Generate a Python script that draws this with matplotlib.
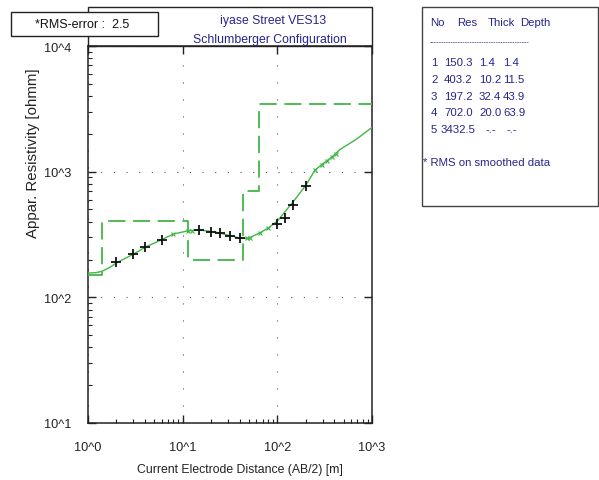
import matplotlib
matplotlib.use("Agg")
import matplotlib.pyplot as plt
from matplotlib.patches import Rectangle
from matplotlib.ticker import LogLocator, NullFormatter

plt.rcParams['font.family'] = ['Liberation Sans', 'DejaVu Sans']

# Observed sounding data: AB/2 [m] and apparent resistivity [ohm-m]
ab2_obs = [2.0, 3.0, 4.0, 6.0, 15.0, 19.7, 24.8, 31.6, 40.3, 100.0, 120.0, 148.0, 199.0]
rho_obs = [190, 221, 252, 286, 345, 333, 325, 306, 295, 385, 425, 542, 764]

# Smoothed data points
ab2_smooth = [8.0, 11.5, 12.4, 47.4, 51.4, 65.5, 80.0, 250.0, 294.0, 331.0, 374.0, 416.0]
rho_smooth = [319, 339, 337, 295, 295, 325, 356, 1040, 1140, 1220, 1300, 1380]

# Calculated response of the layered model
ab2_calc = [1.0, 1.2, 1.4, 1.7, 2.0, 3.0, 4.0, 6.0, 8.0, 11.5, 15.0, 20.0, 25.0, 32.0,
            40.0, 49.0, 65.0, 80.0, 100.0, 148.0, 199.0, 250.0, 300.0, 374.0, 458.0,
            687.0, 1000.0]
rho_calc = [156, 157, 161, 173, 188, 220, 250, 288, 319, 339, 343, 335, 325, 308,
            297, 294, 325, 356, 404, 580, 775, 1030, 1150, 1300, 1500, 1815, 2250]

# Layered earth model
layer_no = [1, 2, 3, 4, 5]
layer_res = [150.3, 403.2, 197.2, 702.0, 3432.5]
layer_thick = [1.4, 10.2, 32.4, 20.0]
layer_depth = [1.4, 11.5, 43.9, 63.9]

x_range = [1.0, 1000.0]
y_range = [10.0, 10000.0]
x_ticklabels = ['10^0', '10^1', '10^2', '10^3']
y_ticklabels = ['10^1', '10^2', '10^3', '10^4']

rms_error = 2.5
title_lines = ['iyase Street VES13', 'Schlumberger Configuration']

W, H = 599, 481
GREEN = '#41b645'
NAVY = '#25258c'


def fx(px):
    return px / W


def fy(py):
    return 1 - py / H


fig = plt.figure(figsize=(W / 100, H / 100), dpi=100)
fig.patch.set_facecolor('white')
ax = fig.add_axes([fx(88), fy(424), fx(372) - fx(88), fy(47) - fy(424)])
ax.set_xscale('log')
ax.set_yscale('log')
ax.set_xlim(x_range)
ax.set_ylim(y_range)

# Model: step function of layer resistivity against depth
edges = [x_range[0]] + layer_depth + [x_range[1]]
steps = layer_res + [layer_res[-1]]
ax.step(edges, steps, where='post', color=GREEN, lw=1.3,
        dashes=(9.5, 4.2), zorder=3)

# Calculated curve, smoothed data and field data
ax.plot(ab2_calc, rho_calc, color=GREEN, lw=1.0, zorder=4)
ax.plot(ab2_smooth, rho_smooth, ls='none', marker='x', ms=3.5, mew=0.8,
        color=GREEN, zorder=5)
ax.plot(ab2_obs, rho_obs, ls='none', marker='+', ms=7.8, mew=1.3,
        color='#111111', zorder=6)

# Ticks
ax.set_xticks([1, 10, 100, 1000], labels=x_ticklabels)
ax.set_yticks([10, 100, 1000, 10000], labels=y_ticklabels)
ax.xaxis.set_minor_locator(LogLocator(base=10, subs=range(2, 10), numticks=20))
ax.yaxis.set_minor_locator(LogLocator(base=10, subs=range(2, 10), numticks=20))
ax.xaxis.set_minor_formatter(NullFormatter())
ax.yaxis.set_minor_formatter(NullFormatter())
ax.tick_params(which='major', direction='in', length=6, width=1.0,
               top=True, right=True, labelsize=9.2, colors='#222222')
ax.tick_params(axis='x', which='major', pad=13)
ax.tick_params(axis='y', which='major', pad=12)
ax.tick_params(which='minor', direction='in', length=3, width=0.8,
               top=False, right=False, left=True, bottom=True, colors='#222222')
for s in ax.spines.values():
    s.set_linewidth(1.1)
    s.set_color('#222222')

# Sparse dotted grid at the inner decades
ax.xaxis.grid(True, which='major', color='#555555', lw=0.8, linestyle=(0, (1, 14.3)))
ax.yaxis.grid(True, which='major', color='#555555', lw=0.8, linestyle=(0, (1, 10.4)))
ax.set_axisbelow(True)

# Axis labels
ax.set_xlabel('Current Electrode Distance (AB/2) [m]', fontsize=8.8, color='#222222')
ax.xaxis.set_label_coords((240 - 88) / 284, (424 - 470) / 377)
ax.xaxis.label.set_va('center')
ax.set_ylabel('Appar. Resistivity [ohmm]', fontsize=10.8, color='#222222')
ax.yaxis.set_label_coords((33 - 88) / 284, (424 - 153) / 377)
ax.yaxis.label.set_va('center')

# Header frame above the plot with the title
fig.add_artist(Rectangle((fx(88), fy(47)), fx(372) - fx(88), fy(8) - fy(47),
                         transform=fig.transFigure, fill=False, lw=1.0,
                         ec='#222222', zorder=1))
fig.text(fx(273), fy(21), title_lines[0], ha='center', va='center',
         fontsize=8.8, color=NAVY)
fig.text(fx(270), fy(40), title_lines[1], ha='center', va='center',
         fontsize=8.8, color=NAVY)

# RMS error box
fig.add_artist(Rectangle((fx(11), fy(37)), fx(158) - fx(11), fy(13) - fy(37),
                         transform=fig.transFigure, fc='white', lw=1.0,
                         ec='#222222', zorder=5))
fig.text(fx(35), fy(25), '*RMS-error :  %.1f' % rms_error, ha='left', va='center',
         fontsize=9, color='#111111', zorder=6)

# Layer table
fig.add_artist(Rectangle((fx(422), fy(207)), fx(598) - fx(422), fy(8) - fy(207),
                         transform=fig.transFigure, fill=False, lw=1.0,
                         ec='#444444', zorder=1))
tsize = 8.2
header_y = 23
fig.text(fx(430), fy(header_y), 'No', fontsize=tsize, color=NAVY, va='center')
fig.text(fx(457), fy(header_y), 'Res', fontsize=tsize, color=NAVY, va='center')
fig.text(fx(488), fy(header_y), 'Thick', fontsize=tsize, color=NAVY, va='center')
fig.text(fx(520), fy(header_y), 'Depth', fontsize=tsize, color=NAVY, va='center')
fig.text(fx(430), fy(43), '-' * 42, fontsize=5.2, color=NAVY, va='center')

row_y = [63, 80, 96.5, 113, 130]
for i, n in enumerate(layer_no):
    y = fy(row_y[i])
    fig.text(fx(431), y, str(n), fontsize=tsize, color=NAVY, va='center')
    fig.text(fx(444 if layer_res[i] < 1000 else 441), y, '%.1f' % layer_res[i],
             fontsize=tsize, color=NAVY, va='center')
    if i < len(layer_thick):
        fig.text(fx(479), y, '%.1f' % layer_thick[i], fontsize=tsize, color=NAVY, va='center')
        fig.text(fx(503), y, '%.1f' % layer_depth[i], fontsize=tsize, color=NAVY, va='center')
    else:
        fig.text(fx(486), y, '-.-', fontsize=tsize, color=NAVY, va='center')
        fig.text(fx(507), y, '-.-', fontsize=tsize, color=NAVY, va='center')

fig.text(fx(423), fy(163), '* RMS on smoothed data', fontsize=tsize, color=NAVY,
         va='center')

fig.savefig('out.png', dpi=100, facecolor='white')
